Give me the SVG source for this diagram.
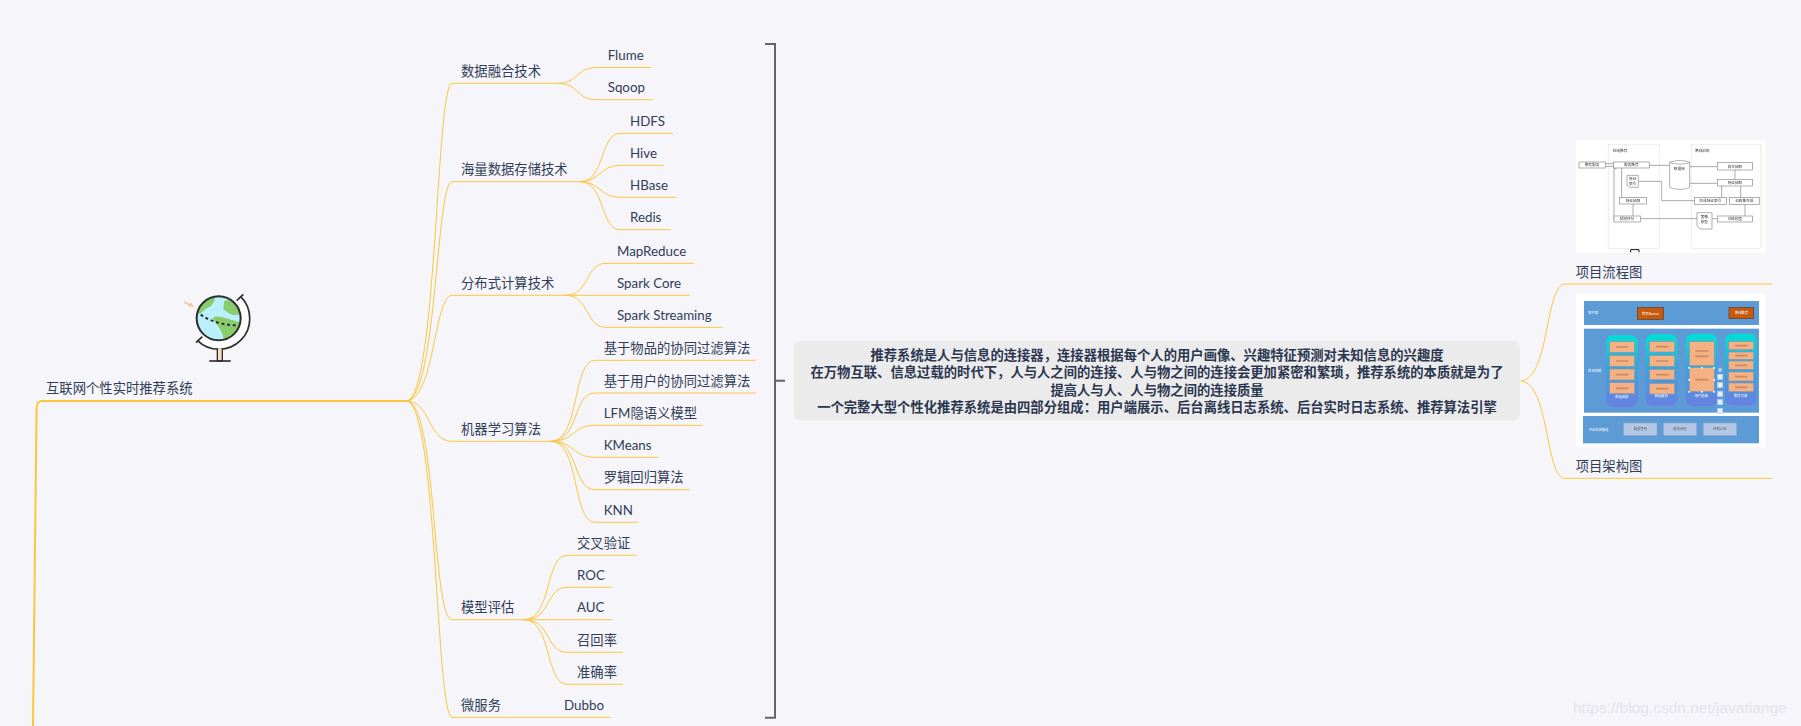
<svg xmlns="http://www.w3.org/2000/svg" width="1801" height="726" viewBox="0 0 1801 726">
<style>
text{font-family:Lato,"Noto Sans CJK SC",sans-serif;font-size:13.33px;fill:#323d58}
.c{fill:none;stroke:#fcc63f;stroke-width:1}
.t{fill:none;stroke:#fcc63f;stroke-width:2}
.b{fill:none;stroke:#666;stroke-width:2}
.m{font-weight:700;text-anchor:middle;fill:#2b3650}
.fb{fill:#fff;stroke:#888;stroke-width:2}
.fl{fill:none;stroke:#999;stroke-width:2.5}
.fd{fill:none;stroke:#c8c8c8;stroke-width:2;stroke-dasharray:3 3}
.ft{font-size:11px;fill:#333;text-anchor:middle}
.ob{fill:#f4b183;stroke:#8c95a8;stroke-width:2}
.sm{fill:none;stroke:#c98a63;stroke-width:5}
.col{fill:url(#g)}
.band{fill:#5b9bd5}
.gb{fill:#b4c7e7;stroke:#8fa8cc;stroke-width:2}
.at{font-size:10px;fill:#fff;text-anchor:middle}
.at2{font-size:10px;fill:#555;text-anchor:middle}
.ic{fill:#e6eef7;stroke:#b8cfe8;stroke-width:2}
.hd{fill:#fff}
</style>
<defs>
<linearGradient id="g" x1="0" y1="0" x2="0" y2="1"><stop offset="0" stop-color="#00dfd6"/><stop offset=".45" stop-color="#35a8dc"/><stop offset="1" stop-color="#6a7fe2"/></linearGradient>
<filter id="bl" x="-5%" y="-5%" width="110%" height="110%"><feGaussianBlur stdDeviation="1"/></filter>
</defs>
<rect width="1801" height="726" fill="#f5f5fa"/>
<g id="connectors">
<path class="t" d="M407 401H42Q37 401 36.6 408L33 726"/>
<path class="c" d="M407 401C437 395 436 83.3 452 83.3H557"/>
<path class="c" d="M407 401C437 396 436 181.7 452 181.7H580"/>
<path class="c" d="M407 401C435 398 434 295.3 452 295.3H565"/>
<path class="c" d="M407 401C430 401 428 441.3 452 441.3H551"/>
<path class="c" d="M407 401C437 404 432 619.7 452 619.7H524"/>
<path class="c" d="M407 401C437 406 436 717.3 452 717.3H610.7"/>
<path class="c" d="M557 83.3C580 83.3 575 67.5 597 67.5H651"/>
<path class="c" d="M557 83.3C580 83.3 575 99.7 597 99.7H652.7"/>
<path class="c" d="M580 181.7C605 181.7 600 133.3 620 133.3H672.7"/>
<path class="c" d="M580 181.7C600 181.7 600 165.3 620 165.3H664"/>
<path class="c" d="M580 181.7C600 181.7 600 197.3 620 197.3H676.7"/>
<path class="c" d="M580 181.7C605 181.7 600 229.7 620 229.7H670.7"/>
<path class="c" d="M565 295.3C590 295.3 585 263.3 606 263.3H694"/>
<path class="c" d="M565 295.3H689.7"/>
<path class="c" d="M565 295.3C590 295.3 585 327.3 606 327.3H722.7"/>
<path class="c" d="M551 441.3C580 441.3 572 360.3 595 360.3H755.7"/>
<path class="c" d="M551 441.3C580 441.3 572 393 595 393H755.7"/>
<path class="c" d="M551 441.3C575 441.3 572 425.3 595 425.3H702.7"/>
<path class="c" d="M551 441.3C575 441.3 572 457.3 595 457.3H658"/>
<path class="c" d="M551 441.3C580 441.3 572 489.7 595 489.7H689.7"/>
<path class="c" d="M551 441.3C580 441.3 572 522.3 595 522.3H638.3"/>
<path class="c" d="M524 619.7C552 619.7 545 555.3 567 555.3H636.7"/>
<path class="c" d="M524 619.7C552 619.7 545 587.3 567 587.3H611.7"/>
<path class="c" d="M524 619.7H611.7"/>
<path class="c" d="M524 619.7C552 619.7 545 652.3 567 652.3H623"/>
<path class="c" d="M524 619.7C552 619.7 545 684.3 567 684.3H623"/>
<path class="b" d="M765 44H775V717.7H765M775 380.7H785"/>
<path class="c" d="M1521 381C1550 378 1545 284 1565 284H1772"/>
<path class="c" d="M1521 381C1550 384 1545 478.3 1565 478.3H1772"/>
</g>
<g id="root"><text x="46" y="393">互联网个性实时推荐系统</text>
<g id="globe" transform="translate(170 280) scale(.3333)">
<path d="M42 66L72 80M55 78L66 70" fill="none" stroke="#f5c79a" stroke-width="5"/>
<path d="M212 50A92 92 0 0 1 82 181" fill="#fff" stroke="#2e2e2e" stroke-width="5"/>
<path d="M220 43L200 62M78 188L97 170" stroke="#2e2e2e" stroke-width="5" fill="none"/>
<circle cx="146" cy="115" r="66" fill="#baf0fb"/>
<path d="M84 100C84 75 105 52 135 50 135 65 125 80 108 86 100 92 95 99 88 102ZM163 62C182 55 200 72 210 102 192 112 170 97 160 87ZM128 114C145 102 170 117 210 127 205 152 182 174 160 176 160 152 140 137 128 114Z" fill="#8acb6b"/>
<circle cx="146" cy="115" r="66" fill="none" stroke="#2e2e2e" stroke-width="6"/>
<path d="M92 104C125 127 170 137 205 136" fill="none" stroke="#2e2e2e" stroke-width="6" stroke-dasharray="9 8"/>
<path d="M142 205V243H157V205" fill="#f9dcc0" stroke="#2e2e2e" stroke-width="4"/>
<path d="M118 243H182" stroke="#2e2e2e" stroke-width="5"/>
</g></g>
<g id="n1"><text x="461" y="76">数据融合技术</text></g>
<g id="n1a"><text x="607.7" y="60">Flume</text></g>
<g id="n1b"><text x="607.7" y="92">Sqoop</text></g>
<g id="n2"><text x="461" y="174">海量数据存储技术</text></g>
<g id="n2a"><text x="630" y="125.8">HDFS</text></g>
<g id="n2b"><text x="630" y="157.8">Hive</text></g>
<g id="n2c"><text x="630" y="189.8">HBase</text></g>
<g id="n2d"><text x="630" y="222">Redis</text></g>
<g id="n3"><text x="461" y="288">分布式计算技术</text></g>
<g id="n3a"><text x="617" y="255.8">MapReduce</text></g>
<g id="n3b"><text x="617" y="287.8">Spark Core</text></g>
<g id="n3c"><text x="617" y="319.8">Spark Streaming</text></g>
<g id="n4"><text x="461" y="434">机器学习算法</text></g>
<g id="n4a"><text x="603.7" y="353">基于物品的协同过滤算法</text></g>
<g id="n4b"><text x="603.7" y="385.5">基于用户的协同过滤算法</text></g>
<g id="n4c"><text x="603.7" y="418">LFM隐语义模型</text></g>
<g id="n4d"><text x="603.7" y="450">KMeans</text></g>
<g id="n4e"><text x="603.7" y="482">罗辑回归算法</text></g>
<g id="n4f"><text x="603.7" y="514.8">KNN</text></g>
<g id="n5"><text x="461" y="612">模型评估</text></g>
<g id="n5a"><text x="577" y="548">交叉验证</text></g>
<g id="n5b"><text x="577" y="580">ROC</text></g>
<g id="n5c"><text x="577" y="612">AUC</text></g>
<g id="n5d"><text x="577" y="645">召回率</text></g>
<g id="n5e"><text x="577" y="677">准确率</text></g>
<g id="n6"><text x="461" y="710">微服务</text></g>
<g id="n6a"><text x="564" y="710">Dubbo</text></g>
<g id="center">
<rect x="794" y="341" width="726" height="79.5" rx="7" fill="#ebebeb"/>
<text class="m" x="1157" y="360">推荐系统是人与信息的连接器，连接器根据每个人的用户画像、兴趣特征预测对未知信息的兴趣度</text>
<text class="m" x="1157" y="377.3">在万物互联、信息过载的时代下，人与人之间的连接、人与物之间的连接会更加紧密和繁琐，推荐系统的本质就是为了</text>
<text class="m" x="1157" y="394.6">提高人与人、人与物之间的连接质量</text>
<text class="m" x="1157" y="411.9">一个完整大型个性化推荐系统是由四部分组成：用户端展示、后台离线日志系统、后台实时日志系统、推荐算法引擎</text>
</g>
<g id="flow">
<g transform="translate(1560 130) scale(.3333)">
<rect x="48" y="30" width="569" height="338" fill="#fff"/>
<g filter="url(#bl)">
<rect class="fd" x="145" y="43" width="153" height="313"/>
<rect class="fd" x="394" y="43" width="208" height="313"/>
<path class="fl" d="M136 101H161M136 109H161M268 106H329M389 110H472M389 160H472M525 120V149M485 168V203M542 168V203M555 223V258M472 266H456M411 266H241M403 212H305V154H235M185 114V203M219 222V258M162 270V116H170"/>
<rect class="fb" x="57" y="96" width="79" height="18"/><rect class="fb" x="161" y="96" width="107" height="18"/>
<path class="fb" d="M329 97C345 90 375 90 389 97V172C375 180 345 180 329 172Z"/><path class="fb" d="M329 97C345 104 375 104 389 97"/>
<rect class="fb" x="472" y="98" width="106" height="22"/><rect class="fb" x="472" y="149" width="106" height="19"/>
<rect class="fb" x="403" y="203" width="96" height="20"/><rect class="fb" x="508" y="203" width="90" height="20"/>
<rect class="fb" x="472" y="258" width="106" height="18"/>
<path class="fb" d="M411 248H456V297H420L411 288Z"/><path class="fb" d="M201 136H235V172H210L201 166Z"/>
<rect class="fb" x="179" y="203" width="80" height="19"/><rect class="fb" x="162" y="258" width="79" height="18"/>
<text class="ft" x="96" y="109">推荐服务</text><text class="ft" x="214" y="109">服务推荐</text>
<text class="ft" x="180" y="67">在线推荐</text><text class="ft" x="427" y="67">离线训练</text>
<text class="ft" x="358" y="119">数据库</text><text class="ft" x="525" y="113">样本抽取</text><text class="ft" x="525" y="163">特征抽取</text>
<text class="ft" x="451" y="217">生成特征索引</text><text class="ft" x="553" y="217">训练集生成</text><text class="ft" x="525" y="271">训练模型</text>
<text class="ft" x="433" y="264">策略</text><text class="ft" x="433" y="280">模型</text>
<text class="ft" x="218" y="151">特征</text><text class="ft" x="218" y="166">索引</text>
<text class="ft" x="219" y="217">特征抽取</text><text class="ft" x="201" y="271">预测评分</text>
</g>
<path d="M212 367V359H237V367" fill="#fff" stroke="#111" stroke-width="3"/>
</g>
</g>
<g id="flow-label"><text x="1575.7" y="276.7">项目流程图</text></g>
<g id="arch">
<g transform="translate(1560 280) scale(.3333)">
<rect x="48" y="42" width="569" height="460" fill="#fff"/>
<g filter="url(#bl)">
<rect class="band" x="72" y="63" width="525" height="72"/>
<rect class="band" x="72" y="146" width="525" height="252"/>
<rect class="band" x="69" y="408" width="528" height="82"/>
<rect x="232" y="83" width="79" height="35" fill="#c55a11" stroke="#5d3a1e" stroke-width="2"/>
<rect x="507" y="83" width="74" height="33" fill="#c55a11" stroke="#5d3a1e" stroke-width="2"/>
<rect class="col" x="138" y="166" width="96" height="214" rx="20"/>
<rect class="col" x="257" y="163" width="95" height="214" rx="20"/>
<rect class="col" x="377" y="162" width="95" height="216" rx="20"/>
<rect class="col" x="495" y="162" width="95" height="214" rx="20"/>
<rect class="ob" x="149" y="185" width="75" height="32"/><rect class="ob" x="149" y="226" width="75" height="33"/><rect class="ob" x="149" y="267" width="75" height="33"/><rect class="ob" x="149" y="308" width="75" height="33"/>
<rect class="ob" x="269" y="184" width="75" height="32"/><rect class="ob" x="269" y="227" width="75" height="32"/><rect class="ob" x="269" y="268" width="75" height="31"/><rect class="ob" x="269" y="310" width="75" height="32"/>
<rect class="ob" x="388" y="185" width="75" height="72"/><rect class="ob" x="388" y="263" width="75" height="72"/>
<rect class="ob" x="506" y="185" width="75" height="24"/><rect class="ob" x="506" y="216" width="75" height="22"/><rect class="ob" x="506" y="243" width="75" height="25"/><rect class="ob" x="506" y="276" width="75" height="27"/><rect class="ob" x="506" y="309" width="75" height="26"/>
<path class="sm" d="M168 201H205M168 243H205M168 284H205M168 325H205M288 200H325M288 243H325M288 284H325M288 326H325M406 213H445M406 229H445M406 299H445M525 197H562M525 227H562M525 256H562M525 290H562M525 322H562"/>
<rect class="gb" x="191" y="429" width="100" height="37"/><rect class="gb" x="310" y="429" width="100" height="37"/><rect class="gb" x="430" y="429" width="100" height="37"/>
<text class="at" x="100" y="103">客户端</text><text class="at" x="105" y="277">应用系统</text><text class="at" x="116" y="454">平台监控服务</text>
<text class="at" x="271" y="104">首页Banner</text><text class="at" x="544" y="103">离线推荐</text>
<text class="at" x="186" y="354">数据采集</text><text class="at" x="304" y="352">数据缓存</text><text class="at" x="424" y="352">用户画像</text><text class="at" x="542" y="352">推荐引擎</text>
<text class="at2" x="241" y="451">配置管理</text><text class="at2" x="360" y="451">服务治理</text><text class="at2" x="480" y="451">授权认证</text>
</g>
<circle cx="480" cy="270" r="6" fill="#b8cfe8"/>
<rect class="ic" x="473" y="283" width="15" height="15"/><rect class="ic" x="473" y="308" width="15" height="15"/><rect class="ic" x="473" y="334" width="15" height="15"/><rect class="ic" x="473" y="359" width="15" height="15"/><rect class="ic" x="473" y="385" width="15" height="15"/>
<g class="hd"><rect x="385" y="261" width="5" height="5"/><rect x="423" y="261" width="5" height="5"/><rect x="460" y="261" width="5" height="5"/><rect x="385" y="297" width="5" height="5"/><rect x="460" y="297" width="5" height="5"/><rect x="385" y="333" width="5" height="5"/><rect x="423" y="333" width="5" height="5"/><rect x="460" y="333" width="5" height="5"/></g>
</g>
</g>
<g id="arch-label"><text x="1575.7" y="471">项目架构图</text></g>
<text x="1573" y="712.7" style="font-family:'Liberation Sans',sans-serif;font-size:15.5px;fill:#e4e4e9">https://blog.csdn.net/javatiange</text>
</svg>
